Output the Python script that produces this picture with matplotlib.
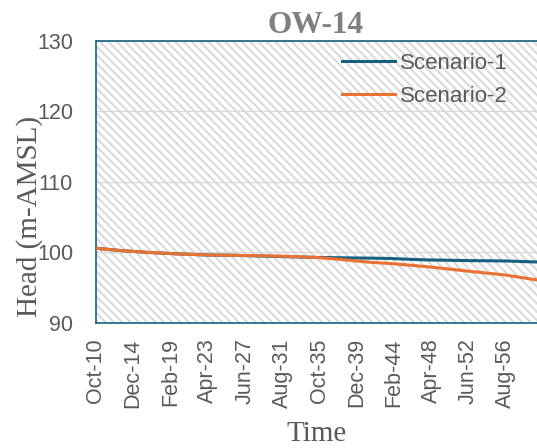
import matplotlib
matplotlib.use("Agg")
import matplotlib.pyplot as plt
from matplotlib.patches import Rectangle

# months since Oct 2010
months = [0, 36, 72, 110, 148, 185, 220, 258, 295, 330, 369, 394, 443, 500, 550, 592]
scenario_1 = [100.6, 100.25, 100.0, 99.8, 99.65, 99.6, 99.5, 99.4, 99.3, 99.25,
              99.2, 99.15, 98.95, 98.85, 98.8, 98.65]
scenario_2 = [100.6, 100.25, 100.0, 99.8, 99.65, 99.6, 99.55, 99.45, 99.3, 99.0,
              98.6, 98.45, 98.0, 97.35, 96.8, 96.1]

tick_months = [0, 50, 100, 150, 200, 250, 300, 350, 400, 450, 500, 550]
tick_labels = ['Oct-10', 'Dec-14', 'Feb-19', 'Apr-23', 'Jun-27', 'Aug-31',
               'Oct-35', 'Dec-39', 'Feb-44', 'Apr-48', 'Jun-52', 'Aug-56']

blue = '#156082'
orange = '#E97132'
grey_txt = '#595959'

plt.rcParams['hatch.linewidth'] = 1.5

W, H = 537, 448
fig = plt.figure(figsize=(W / 100, H / 100), dpi=100)
ax = fig.add_axes([96 / W, (H - 323) / H, (W - 96) / W, (323 - 41) / H])

# hatched plot area
ax.add_patch(Rectangle((0, 0), 1, 1, transform=ax.transAxes, facecolor='none',
                       edgecolor='#dadada', hatch='\\\\\\\\', lw=0, zorder=0))

ax.plot(months, scenario_1, color=blue, lw=2.2, label='Scenario-1', zorder=3)
ax.plot(months, scenario_2, color=orange, lw=2.2, label='Scenario-2', zorder=3)

ax.set_xlim(0, 592)
ax.set_ylim(90, 130)
ax.set_yticks([90, 100, 110, 120, 130])
ax.set_xticks(tick_months)
ax.set_xticklabels(tick_labels, rotation=90)

ax.set_axisbelow(True)
ax.grid(axis='y', color='#d9d9d9', lw=1)

for s in ['left', 'top', 'bottom']:
    ax.spines[s].set_color(blue)
    ax.spines[s].set_linewidth(1.2)
ax.spines['right'].set_visible(False)

ax.tick_params(axis='both', length=0, labelcolor=grey_txt)
ax.tick_params(axis='y', pad=16.5)
ax.tick_params(axis='x', pad=11)
for lab in ax.get_xticklabels() + ax.get_yticklabels():
    lab.set_fontfamily('Liberation Sans')
    lab.set_fontsize(15.5)

ax.set_ylabel('Head (m-AMSL)', family='Liberation Serif', fontsize=21, color=grey_txt)
ax.yaxis.set_label_coords(-0.15, 0.379)
ax.yaxis.label.set_va('center')
ax.set_xlabel('Time', family='Liberation Serif', fontsize=21, color=grey_txt)
ax.xaxis.set_label_coords(0.501, -0.394)
ax.xaxis.label.set_va('center')

fig.text(316 / W, 1 - 33 / H, 'OW-14', family='Liberation Serif', fontweight='bold',
         fontsize=22.5, color='#7f7f7f', ha='center', va='baseline')

ax.legend(loc='upper left', bbox_to_anchor=(0.558, 0.957), frameon=False,
          prop={'family': 'Liberation Sans', 'size': 16}, labelcolor=grey_txt,
          handlelength=2.4, handletextpad=0.22, labelspacing=0.53,
          borderpad=0, borderaxespad=0)

fig.savefig('out.png', dpi=100)
